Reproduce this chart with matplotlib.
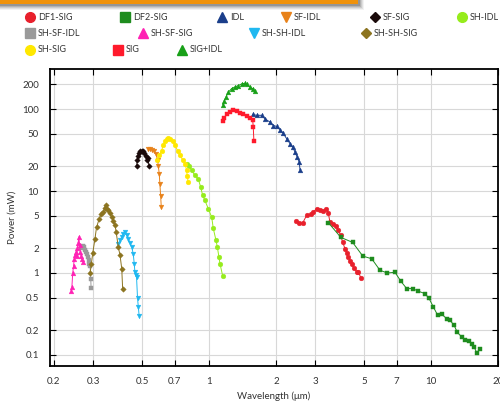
"""
Output power of the OPO stages (signal, idler and their mixing / doubling
products) across the full tuning range, on log-log axes.
"""

import matplotlib.pyplot as plt
from matplotlib.lines import Line2D
from matplotlib.patches import Rectangle

plt.rcParams["font.family"] = ["Lato", "DejaVu Sans"]

# wavelength (um) / power (mW) for each stage
sh_sf_sig_wl = [0.239, 0.241, 0.243, 0.245, 0.247, 0.249, 0.251, 0.253, 0.255, 0.257, 0.259, 0.261, 0.263, 0.265, 0.267, 0.270]
sh_sf_sig_p = [0.60, 0.68, 1.0, 1.2, 1.5, 1.65, 1.8, 1.6, 2.0, 2.3, 2.75, 2.2, 1.8, 1.6, 1.5, 1.36]

sh_sf_idl_wl = [0.266, 0.269, 0.272, 0.275, 0.278, 0.281, 0.284, 0.287, 0.289, 0.291, 0.293, 0.294]
sh_sf_idl_p = [2.0, 2.15, 2.05, 1.9, 1.8, 1.7, 1.55, 1.45, 1.3, 1.2, 0.85, 0.65]

sh_sh_sig_wl = [0.291, 0.295, 0.299, 0.306, 0.311, 0.320, 0.327, 0.334, 0.338, 0.343, 0.347, 0.351, 0.357, 0.364, 0.370, 0.377, 0.381, 0.390, 0.397, 0.404, 0.408]
sh_sh_sig_p = [1.0, 1.3, 1.74, 2.6, 3.6, 4.6, 5.3, 5.55, 6.2, 6.7, 6.0, 5.8, 5.4, 4.8, 4.3, 3.8, 3.2, 2.07, 1.64, 1.13, 0.63]

sh_sh_idl_wl = [0.390, 0.397, 0.404, 0.411, 0.418, 0.425, 0.432, 0.440, 0.448, 0.455, 0.460, 0.463, 0.467, 0.471, 0.476, 0.480, 0.484]
sh_sh_idl_p = [2.28, 2.5, 2.75, 3.0, 3.16, 2.9, 2.63, 2.3, 2.07, 1.72, 1.3, 1.03, 0.95, 0.89, 0.49, 0.38, 0.30]

sf_sig_wl = [0.472, 0.474, 0.478, 0.483, 0.490, 0.497, 0.504, 0.511, 0.518, 0.524, 0.530, 0.536]
sf_sig_p = [20.0, 24.0, 26.5, 29.0, 30.5, 31.2, 30.5, 29.5, 27.0, 24.0, 25.5, 20.0]

sf_idl_wl = [0.532, 0.541, 0.551, 0.564, 0.576, 0.586, 0.590, 0.596, 0.600, 0.605, 0.609]
sf_idl_p = [32.9, 33.0, 32.0, 31.0, 28.6, 23.7, 20.5, 16.3, 12.3, 8.6, 6.3]

sh_sig_wl = [0.580, 0.596, 0.611, 0.621, 0.632, 0.647, 0.656, 0.666, 0.685, 0.702, 0.721, 0.739, 0.760, 0.778, 0.792, 0.797, 0.805]
sh_sig_p = [23.7, 27.2, 31.2, 36.0, 40.7, 43.5, 44.0, 43.5, 40.7, 36.0, 31.2, 27.2, 24.1, 21.6, 18.0, 15.1, 12.9]

sh_idl_wl = [0.792, 0.813, 0.834, 0.863, 0.893, 0.916, 0.935, 0.957, 0.991, 1.027, 1.044, 1.074, 1.089, 1.107, 1.119, 1.151]
sh_idl_p = [21.6, 20.0, 18.0, 15.5, 14.1, 11.2, 8.9, 7.7, 6.1, 4.8, 3.5, 2.5, 2.07, 1.57, 1.3, 0.92]

sig_idl_wl = [1.151, 1.167, 1.191, 1.220, 1.263, 1.307, 1.353, 1.401, 1.450, 1.485, 1.527, 1.570, 1.608]
sig_idl_p = [113, 125, 140, 161, 178, 186, 194, 203, 207, 200, 186, 178, 166]

sig_wl = [1.151, 1.167, 1.199, 1.241, 1.285, 1.331, 1.377, 1.425, 1.476, 1.527, 1.571, 1.580, 1.591]
sig_p = [71, 78, 86, 92, 96.5, 94.5, 89.5, 86, 81.5, 78.5, 74.5, 60.5, 40.7]

idl_wl = [1.571, 1.637, 1.725, 1.784, 1.880, 1.945, 2.014, 2.085, 2.158, 2.234, 2.313, 2.378, 2.437, 2.495, 2.548, 2.565]
idl_p = [86, 84, 84, 76, 69.5, 63, 61.5, 56, 50.5, 43.6, 38, 34.5, 29.9, 26, 22.5, 18.2]

df1_sig_wl = [2.461, 2.548, 2.637, 2.749, 2.866, 2.945, 3.050, 3.158, 3.268, 3.359, 3.441, 3.500, 3.623, 3.725, 3.818, 3.909,
              3.991, 4.092, 4.163, 4.236, 4.307, 4.385, 4.489, 4.621, 4.696, 4.818]
df1_sig_p = [4.30, 4.07, 4.07, 5.05, 5.2, 5.55, 6.1, 5.93, 5.7, 6.1, 5.4, 4.19, 3.93, 3.71, 3.32, 2.88,
             2.39, 1.98, 1.75, 1.57, 1.40, 1.28, 1.16, 1.03, 1.03, 0.88]

df2_sig_wl = [3.44, 3.92, 4.43, 4.92, 5.40, 5.88, 6.34, 6.87, 7.31, 7.76, 8.26, 8.75, 9.38, 9.78, 10.23, 10.70, 11.15,
              11.75, 12.16, 12.68, 13.13, 13.72, 14.20, 14.86, 15.24, 15.60, 16.04, 16.6]
df2_sig_p = [4.12, 2.72, 2.36, 1.61, 1.49, 1.08, 1.0, 1.02, 0.79, 0.645, 0.645, 0.60, 0.56, 0.49, 0.385, 0.305, 0.314,
             0.277, 0.265, 0.23, 0.188, 0.166, 0.151, 0.148, 0.135, 0.126, 0.106, 0.119]

series = [
    ("DF1-SIG", df1_sig_wl, df1_sig_p, "#e8202c", "o"),
    ("DF2-SIG", df2_sig_wl, df2_sig_p, "#1e8c1e", "s"),
    ("IDL", idl_wl, idl_p, "#1a3e8a", "^"),
    ("SF-IDL", sf_idl_wl, sf_idl_p, "#e8821a", "v"),
    ("SF-SIG", sf_sig_wl, sf_sig_p, "#1a0a0a", "D"),
    ("SH-IDL", sh_idl_wl, sh_idl_p, "#96ec1c", "o"),
    ("SH-SF-IDL", sh_sf_idl_wl, sh_sf_idl_p, "#9a9a9a", "s"),
    ("SH-SF-SIG", sh_sf_sig_wl, sh_sf_sig_p, "#ff22b4", "^"),
    ("SH-SH-IDL", sh_sh_idl_wl, sh_sh_idl_p, "#20b8f0", "v"),
    ("SH-SH-SIG", sh_sh_sig_wl, sh_sh_sig_p, "#8c7420", "D"),
    ("SH-SIG", sh_sig_wl, sh_sig_p, "#ffe800", "o"),
    ("SIG", sig_wl, sig_p, "#ff1a2c", "s"),
    ("SIG+IDL", sig_idl_wl, sig_idl_p, "#18a018", "^"),
]

xticks = [0.2, 0.3, 0.5, 0.7, 1, 2, 3, 5, 7, 10, 20]
yticks = [0.1, 0.2, 0.5, 1, 2, 5, 10, 20, 50, 100, 200]

fig = plt.figure(figsize=(5, 4.05), dpi=100)
ax = fig.add_axes([0.10, 0.096, 0.896, 0.734])

for label, wl, p, color, marker in series:
    ms = 2.8 if marker == "D" else 3.4
    ax.plot(wl, p, color=color, marker=marker, ms=ms, lw=0.7, mec=color, mew=0.3)

ax.set_xscale("log")
ax.set_yscale("log")
ax.set_xlim(0.192, 20)
ax.set_ylim(0.073, 310)
ax.set_xticks(xticks)
ax.set_xticklabels([f"{t:g}" for t in xticks])
ax.set_yticks(yticks)
ax.set_yticklabels([f"{t:g}" for t in yticks])
ax.minorticks_off()
ax.tick_params(direction="in", top=True, right=True, length=4, width=0.8,
               labelsize=7, labelcolor="#333333", pad=8)
ax.grid(color="#d8d8d8", lw=0.8)
ax.set_axisbelow(True)
for side in ax.spines.values():
    side.set_linewidth(1.3)

ax.set_xlabel("Wavelength (μm)", fontsize=7, color="#333333", labelpad=4)
ax.set_ylabel("Power (mW)", fontsize=7, color="#333333", labelpad=4)

# legend laid out in three loose rows above the plot
legend_rows = [
    [(30, 0), (125, 1), (222, 2), (286, 3), (375, 4), (462, 5)],
    [(30, 6), (143, 7), (254, 8), (366, 9)],
    [(30, 10), (118, 11), (182, 12)],
]
row_y = [17, 33, 50]
W, H = 500, 405
for y, row in zip(row_y, legend_rows):
    for x, i in row:
        label, _, _, color, marker = series[i]
        ms = 5.5 if marker == "D" else 7
        fig.add_artist(Line2D([x / W], [1 - y / H], marker=marker, ms=ms, color=color,
                              ls="none", transform=fig.transFigure))
        fig.text((x + 8) / W, 1 - y / H, label, fontsize=6.5, color="#333333",
                 va="center", ha="left")

# orange header strip with a soft drop shadow
for k, a in enumerate([0.05, 0.07, 0.09, 0.12, 0.16]):
    d = 6 - k
    fig.add_artist(Rectangle((0, 1 - (4 + d) / H), (358 + d) / W, (4 + d) / H,
                             transform=fig.transFigure, color="black", alpha=a, lw=0))
fig.add_artist(Rectangle((0, 1 - 4 / H), 358 / W, 4 / H, transform=fig.transFigure,
                         color="#f0920a", lw=0))

fig.savefig("out.png", dpi=100)
